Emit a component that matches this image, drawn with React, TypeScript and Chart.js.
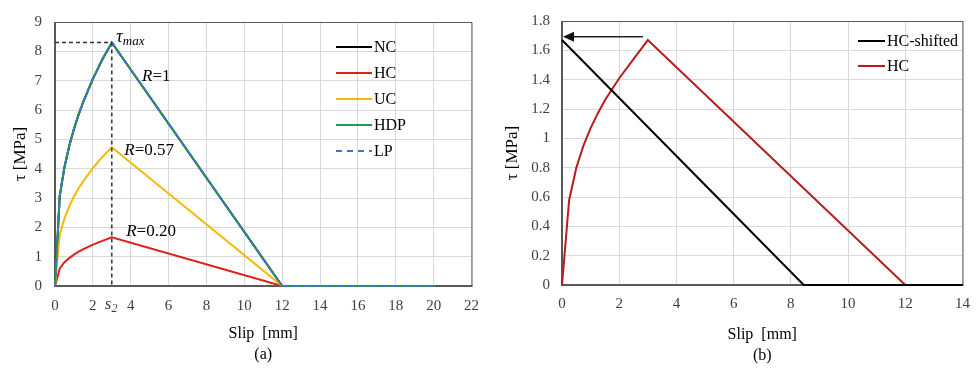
import React, { useEffect, useRef } from "react";
import { Chart, registerables } from "chart.js";
Chart.register(...registerables);

// ---------- Data: chart (a) ----------
const slipA = [0, 0.25, 0.5, 0.75, 1, 1.25, 1.5, 2, 2.5, 3, 12, 20];
const tauNC = [0, 3.07, 4.05, 4.77, 5.35, 5.85, 6.29, 7.06, 7.72, 8.3, 0, 0];
const tauHC = [0, 0.6, 0.81, 0.95, 1.07, 1.17, 1.26, 1.41, 1.54, 1.66, 0, 0];
const tauUC = [0, 1.75, 2.31, 2.71, 3.05, 3.33, 3.58, 4.02, 4.4, 4.73, 0, 0];
const tauHDP = [0, 3.07, 4.05, 4.77, 5.35, 5.85, 6.29, 7.06, 7.72, 8.3, 0, 0];
const tauLP = [0, 3.07, 4.05, 4.77, 5.35, 5.85, 6.29, 7.06, 7.72, 8.3, 0, 0];
const seriesA = ["NC", "HC", "UC", "HDP", "LP"];
const S2 = 3;
const TAU_MAX = 8.3;
const rLabels = [
  { text: "1", x: 4.6, y: 7.13 },
  { text: "0.57", x: 3.66, y: 4.63 },
  { text: "0.20", x: 3.76, y: 1.84 },
];

// ---------- Data: chart (b) ----------
const slipHCb = [0, 0.25, 0.5, 0.75, 1, 1.25, 1.5, 2, 2.5, 3, 12, 14];
const tauHCb = [0, 0.58, 0.8, 0.95, 1.07, 1.17, 1.26, 1.41, 1.54, 1.67, 0, 0];
const slipShifted = [0, 8.45, 14];
const tauShifted = [1.67, 0, 0];
const seriesB = ["HC-shifted", "HC"];
const arrowFrom = { x: 2.83, y: 1.693 };
const arrowTo = { x: 0, y: 1.693 };

const FONT = "'Liberation Serif', 'Times New Roman', serif";
const TICK_COLOR = "#404040";
const GRID = "#d9d9d9";
const AXIS = "#595959";

const pts = (xs: number[], ys: number[]) => xs.map((x, i) => ({ x, y: ys[i] }));

const frame = {
  id: "frame",
  beforeDatasetsDraw(chart: any) {
    const { ctx, chartArea: a } = chart;
    ctx.save();
    ctx.strokeStyle = AXIS;
    ctx.lineWidth = 1;
    ctx.beginPath();
    ctx.moveTo(a.left, a.top + 0.5);
    ctx.lineTo(a.right + 0.5, a.top + 0.5);
    ctx.lineTo(a.right + 0.5, a.bottom);
    ctx.stroke();
    ctx.lineWidth = 2;
    ctx.beginPath();
    ctx.moveTo(a.left, a.top);
    ctx.lineTo(a.left, a.bottom);
    ctx.lineTo(a.right + 1, a.bottom);
    ctx.stroke();
    ctx.restore();
  },
};

function drawLegend(chart: any, x0: number, y0: number, gap: number, len: number) {
  const { ctx } = chart;
  ctx.save();
  ctx.font = `16px ${FONT}`;
  ctx.textBaseline = "middle";
  ctx.textAlign = "left";
  chart.data.datasets.forEach((ds: any, i: number) => {
    const y = y0 + i * gap;
    ctx.strokeStyle = ds.borderColor;
    ctx.lineWidth = ds.borderWidth;
    ctx.setLineDash(ds.borderDash || []);
    ctx.beginPath();
    ctx.moveTo(x0, y);
    ctx.lineTo(x0 + len, y);
    ctx.stroke();
    ctx.setLineDash([]);
    ctx.fillStyle = "#000";
    ctx.fillText(ds.label, x0 + len + 2, y + 1);
  });
  ctx.restore();
}

function subText(ctx: any, main: string, sub: string, x: number, y: number, mainSize: number, subSize: number) {
  ctx.font = `italic ${mainSize}px ${FONT}`;
  ctx.fillText(main, x, y);
  const w = ctx.measureText(main).width;
  ctx.font = `italic ${subSize}px ${FONT}`;
  ctx.fillText(sub, x + w, y + 4);
}

const annotA = {
  id: "annotA",
  afterDatasetsDraw(chart: any) {
    const { ctx } = chart;
    const xs = chart.scales.x;
    const ys = chart.scales.y;
    ctx.save();
    ctx.strokeStyle = "#333";
    ctx.lineWidth = 1.5;
    ctx.setLineDash([4, 3]);
    ctx.beginPath();
    ctx.moveTo(xs.getPixelForValue(0), ys.getPixelForValue(TAU_MAX));
    ctx.lineTo(xs.getPixelForValue(S2), ys.getPixelForValue(TAU_MAX));
    ctx.moveTo(xs.getPixelForValue(S2), ys.getPixelForValue(TAU_MAX));
    ctx.lineTo(xs.getPixelForValue(S2), ys.getPixelForValue(0));
    ctx.stroke();
    ctx.setLineDash([]);
    ctx.fillStyle = "#000";
    ctx.textBaseline = "middle";
    ctx.textAlign = "left";
    // tau max
    subText(ctx, "τ", "max", xs.getPixelForValue(3.24), ys.getPixelForValue(8.47), 18, 13);
    // R labels
    rLabels.forEach((r) => {
      const px = xs.getPixelForValue(r.x);
      const py = ys.getPixelForValue(r.y);
      ctx.font = `italic 17px ${FONT}`;
      ctx.fillText("R", px, py);
      const w = ctx.measureText("R").width;
      ctx.font = `17px ${FONT}`;
      ctx.fillText("=" + r.text, px + w, py);
    });
    // s2 tick label
    ctx.fillStyle = TICK_COLOR;
    const sx = xs.getPixelForValue(S2) - 7;
    subText(ctx, "s", "2", sx, 305, 17, 12);
    ctx.restore();
    drawLegend(chart, 336, 47, 26, 36);
  },
};

const annotB = {
  id: "annotB",
  afterDatasetsDraw(chart: any) {
    const { ctx } = chart;
    const xs = chart.scales.x;
    const ys = chart.scales.y;
    const x1 = xs.getPixelForValue(arrowFrom.x);
    const x2 = xs.getPixelForValue(arrowTo.x);
    const y = ys.getPixelForValue(arrowFrom.y);
    ctx.save();
    ctx.strokeStyle = "#222";
    ctx.fillStyle = "#111";
    ctx.lineWidth = 1.5;
    ctx.beginPath();
    ctx.moveTo(x1, y);
    ctx.lineTo(x2 + 8, y);
    ctx.stroke();
    ctx.beginPath();
    ctx.moveTo(x2 + 1, y);
    ctx.lineTo(x2 + 12, y - 5);
    ctx.lineTo(x2 + 12, y + 5);
    ctx.closePath();
    ctx.fill();
    ctx.restore();
    drawLegend(chart, 368, 41, 25, 27);
  },
};

function baseOptions(opts: any) {
  return {
    animation: false,
    responsive: false,
    maintainAspectRatio: false,
    layout: { padding: opts.padding },
    plugins: { legend: { display: false }, tooltip: { enabled: false } },
    scales: {
      x: {
        type: "linear",
        min: 0,
        max: opts.xMax,
        ticks: {
          stepSize: 2,
          padding: opts.xTickPad,
          color: TICK_COLOR,
          font: { family: FONT, size: 15 },
          maxRotation: 0,
          autoSkip: false,
        },
        grid: { color: GRID, lineWidth: 1, drawTicks: false },
        border: { display: false },
        title: {
          display: true,
          text: opts.xTitle,
          color: "#000",
          font: { family: FONT, size: 16, lineHeight: 1.3 },
          padding: { top: 0, bottom: opts.xTitlePad },
        },
        afterFit: (s: any) => {
          s.height = opts.xHeight;
        },
      },
      y: {
        type: "linear",
        min: 0,
        max: opts.yMax,
        ticks: {
          stepSize: opts.yStep,
          padding: opts.yTickPad,
          color: TICK_COLOR,
          font: { family: FONT, size: 15 },
          callback: (v: any) => String(+Number(v).toFixed(1)),
        },
        grid: { color: GRID, lineWidth: 1, drawTicks: false },
        border: { display: false },
        title: {
          display: true,
          text: "τ [MPa]",
          color: "#000",
          font: { family: FONT, size: 17 },
          padding: { top: opts.yTitlePad, bottom: 0 },
        },
        afterFit: (s: any) => {
          s.width = opts.yWidth;
        },
      },
    },
  };
}

function ds(label: string, xs: number[], ys: number[], color: string, order: number, dash?: number[]) {
  return {
    label,
    data: pts(xs, ys),
    showLine: true,
    borderColor: color,
    backgroundColor: color,
    borderWidth: 2,
    borderDash: dash || [],
    pointRadius: 0,
    tension: 0,
    clip: false,
    order,
  };
}

function ChartA() {
  const ref = useRef<HTMLCanvasElement>(null);
  useEffect(() => {
    const chart = new Chart(ref.current as HTMLCanvasElement, {
      type: "scatter",
      data: {
        datasets: [
          ds(seriesA[0], slipA, tauNC, "#000000", 5),
          ds(seriesA[1], slipA, tauHC, "#e0201b", 4),
          ds(seriesA[2], slipA, tauUC, "#f5b800", 3),
          ds(seriesA[3], slipA, tauHDP, "#1e9a50", 2),
          ds(seriesA[4], slipA, tauLP, "#4472c4", 1, [6, 5]),
        ],
      },
      options: baseOptions({
        padding: { left: 0, top: 12, right: 15, bottom: 0 },
        xMax: 22,
        yMax: 9,
        yStep: 1,
        xTickPad: 11,
        yTickPad: 13,
        xHeight: 85,
        yWidth: 55,
        xTitle: ["Slip  [mm]", "(a)"],
        xTitlePad: 6,
        yTitlePad: 10,
      }) as any,
      plugins: [frame, annotA],
    });
    return () => chart.destroy();
  }, []);
  return <canvas ref={ref} width={490} height={371} style={{ position: "absolute", left: 0, top: 0, width: 490, height: 371 }} />;
}

function ChartB() {
  const ref = useRef<HTMLCanvasElement>(null);
  useEffect(() => {
    const chart = new Chart(ref.current as HTMLCanvasElement, {
      type: "scatter",
      data: {
        datasets: [
          ds(seriesB[0], slipShifted, tauShifted, "#000000", 1),
          ds(seriesB[1], slipHCb, tauHCb, "#b81c1c", 2),
        ],
      },
      options: baseOptions({
        padding: { left: 0, top: 15, right: 9, bottom: 0 },
        xMax: 14,
        yMax: 1.8,
        yStep: 0.2,
        xTickPad: 10,
        yTickPad: 12,
        xHeight: 86,
        yWidth: 72,
        xTitle: ["Slip  [mm]", "(b)"],
        xTitlePad: 5,
        yTitlePad: 12,
      }) as any,
      plugins: [frame, annotB],
    });
    return () => chart.destroy();
  }, []);
  return <canvas ref={ref} width={490} height={371} style={{ position: "absolute", left: 490, top: 0, width: 490, height: 371 }} />;
}

export default function App() {
  return (
    <div style={{ position: "absolute", left: 0, top: 0, width: 980, height: 371, background: "#fff" }}>
      <ChartA />
      <ChartB />
    </div>
  );
}
